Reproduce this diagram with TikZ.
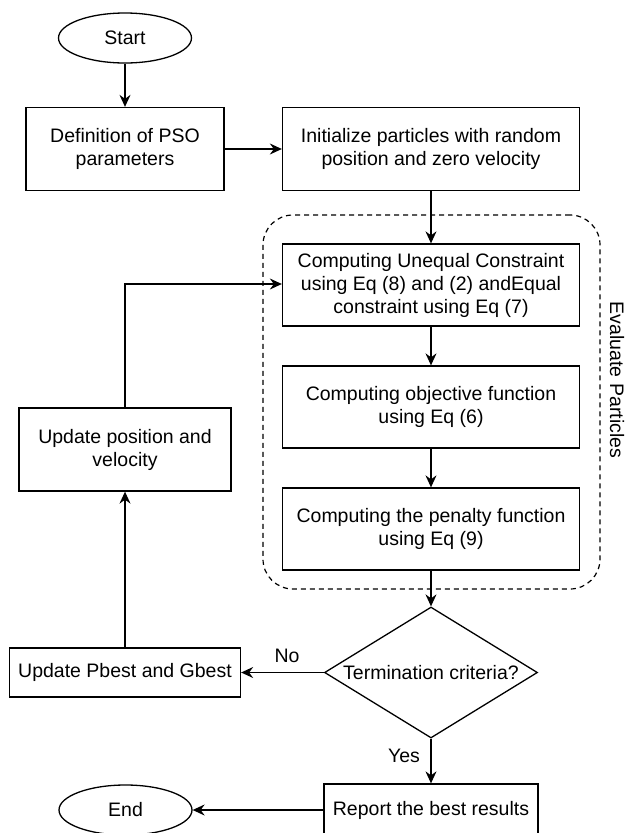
\documentclass[tikz,border=0pt]{standalone}
\usepackage{fontspec}
\setmainfont{Liberation Sans}
\usetikzlibrary{shapes.geometric,arrows.meta}
\begin{document}
\begin{tikzpicture}[x=1pt,y=-1pt,
  txt/.style={font=\fontsize{19.5}{23}\selectfont},
  box/.style={txt, draw, line width=1.3pt, rectangle, inner sep=0pt, align=center, fill=white},
  term/.style={txt, draw, line width=1.3pt, ellipse, inner sep=0pt, minimum width=133pt, minimum height=50pt, fill=white},
  arr/.style={line width=1.3pt, -{Stealth[length=12pt,width=11pt,inset=4pt]}},
  grpbox/.style={draw, line width=1.2pt, dash pattern=on 5pt off 4pt, rounded corners=30pt, inner sep=0pt}
]
\useasboundingbox (0,0) rectangle (627,833);
\clip (0,0) rectangle (627,833);

% evaluate group
\node[grpbox, minimum width=337pt, minimum height=374pt] (grp) at (431.5,402) {};
\node[txt, rotate=-90] (ev) at (617,380) {Evaluate Particles};

\node[term] (start) at (125,38) {Start};
\node[box, minimum width=198pt, minimum height=83pt] (def) at (125,149) {Definition of PSO\\parameters};
\node[box, minimum width=297pt, minimum height=83pt] (init) at (431,149) {Initialize particles with random\\position and zero velocity};
\node[box, minimum width=297pt, minimum height=82pt] (c1) at (431,285) {Computing Unequal Constraint\\using Eq (8) and (2) andEqual\\constraint using Eq (7)};
\node[box, minimum width=297pt, minimum height=82pt] (c2) at (431,407) {Computing objective function\\using Eq (6)};
\node[box, minimum width=297pt, minimum height=82pt] (c3) at (431,529) {Computing the penalty function\\using Eq (9)};
\node[draw, line width=1.3pt, diamond, inner sep=0pt, minimum width=213pt, minimum height=131pt, fill=white,
      label={[txt]center:Termination criteria?}] (dec) at (431,672.5) {};
\node[box, minimum width=231pt, minimum height=49pt] (pb) at (125,672.5) {Update Pbest and Gbest};
\node[box, minimum width=212pt, minimum height=83pt] (up) at (125,449.5) {Update position and\\velocity};
\node[box, minimum width=214pt, minimum height=52pt] (rep) at (431,810) {Report the best results};
\node[term] (end) at (125.5,810) {End};

\node[txt] (no) at (287,656) {No};
\node[txt] (yes) at (404,756) {Yes};

\coordinate (turn) at (125,284);

\draw[arr] (start) -- (def);
\draw[arr] (def) -- (init);
\draw[arr] (init) -- (c1);
\draw[arr] (c1) -- (c2);
\draw[arr] (c2) -- (c3);
\draw[arr] (c3) -- (dec);
\draw[arr] (dec.west) -- (pb.east);
\draw[arr] (dec.south) -- (rep.north);
\draw[arr] (rep.west) -- (end.east);
\draw[arr] (pb.north) -- (up.south);
\draw[arr] (up.north) -- (turn) -- (turn -| c1.west);
\end{tikzpicture}
\end{document}
